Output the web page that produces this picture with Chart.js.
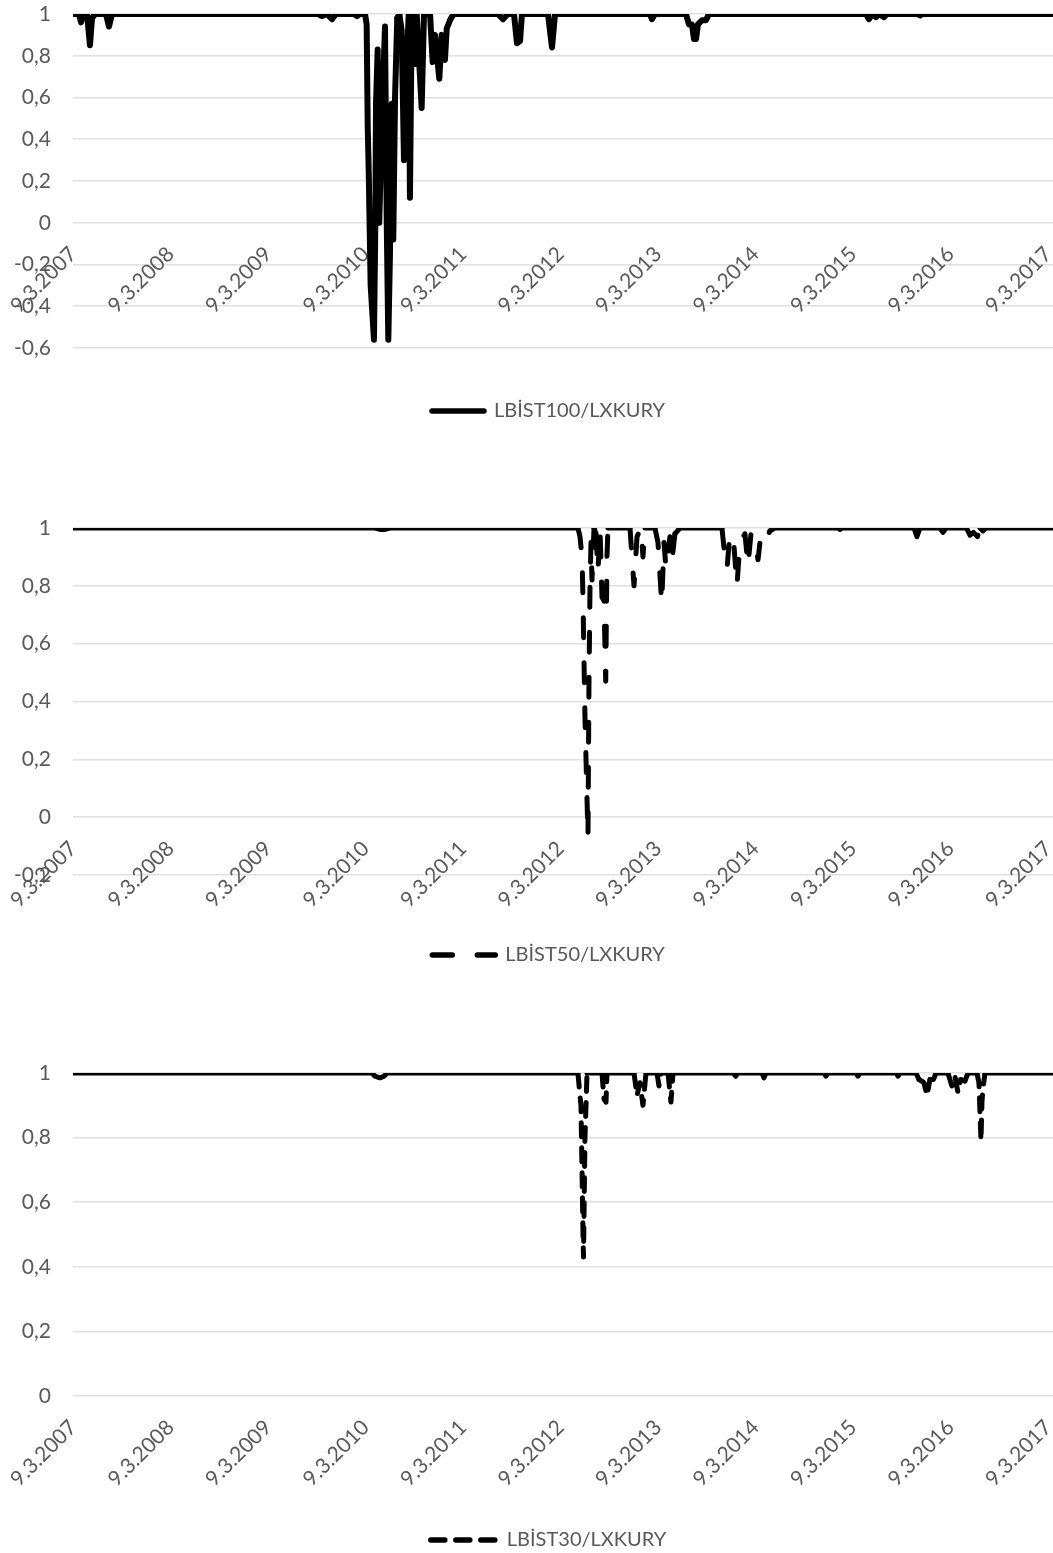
<!DOCTYPE html>
<html>
<head>
<meta charset="utf-8">
<script src="https://cdn.jsdelivr.net/npm/chart.js@4.4.0/dist/chart.umd.min.js"></script>
<style>
  html, body { margin: 0; padding: 0; background: #fff; overflow: hidden; }
  #page { position: relative; width: 1053px; height: 1553px; overflow: hidden; }
  /* the canvas runs 44px past the page edge so the legend sits where Excel put it */
  .box { position: absolute; left: 0; width: 1097px; }
</style>
</head>
<body>
<div id="page">
  <div class="box" style="top:0;height:431px"><canvas id="chart1"></canvas></div>
  <div class="box" style="top:514px;height:461px"><canvas id="chart2"></canvas></div>
  <div class="box" style="top:1059px;height:501px"><canvas id="chart3"></canvas></div>
</div>
<script>
// x axis: years since 9.3.2007, one tick per year
const tickYears = [0, 1, 2, 3, 4, 5, 6, 7, 8, 9, 10];
const tickLabels = ['9.3.2007', '9.3.2008', '9.3.2009', '9.3.2010', '9.3.2011', '9.3.2012',
  '9.3.2013', '9.3.2014', '9.3.2015', '9.3.2016', '9.3.2017'];

// LBİST100/LXKURY
const years100 = [0, 0.062, 0.082, 0.103, 0.144, 0.174, 0.195, 0.226, 0.338, 0.369, 0.400,
  2.513, 2.554, 2.605, 2.656, 2.697, 2.882, 2.913, 2.944, 2.995,
  3.012, 3.023, 3.033, 3.053, 3.087, 3.101, 3.108, 3.125, 3.141, 3.166, 3.200, 3.218, 3.234,
  3.251, 3.269, 3.285, 3.303, 3.326, 3.347, 3.371, 3.395, 3.408, 3.423, 3.443, 3.456, 3.470,
  3.484, 3.508, 3.525, 3.576, 3.600, 3.662, 3.689, 3.713, 3.757, 3.782, 3.815, 3.833, 3.867,
  3.901, 4.359, 4.410, 4.462, 4.523, 4.554, 4.585, 4.605, 4.872, 4.913, 4.944,
  5.918, 5.938, 5.969, 6.287, 6.318, 6.349, 6.369, 6.390, 6.410, 6.451, 6.492, 6.523,
  8.133, 8.164, 8.195, 8.236, 8.267, 8.318, 8.349, 8.667, 8.687, 8.708, 10.051];
const values100 = [1, 1, 0.96, 0.99, 1, 0.85, 0.98, 1, 1, 0.94, 1,
  1, 0.99, 1, 0.975, 1, 1, 0.99, 1, 1,
  0.95, 0.46, 0.25, -0.3, -0.56, 0, 0.57, 0.83, 0, 0.45, 0.94, 0, -0.56,
  -0.15, 0.57, -0.08, 0.6, 0.98, 1, 0.92, 0.3, 0.54, 0.75, 1, 0.12, 0.8,
  1, 0.76, 1, 0.55, 1, 1, 0.77, 0.9, 0.69, 0.9, 0.78, 0.93, 0.97,
  1, 1, 0.975, 1, 1, 0.86, 0.87, 1, 1, 0.84, 1,
  1, 0.975, 1, 1, 0.95, 0.95, 0.88, 0.88, 0.95, 0.97, 0.97, 1,
  1, 0.975, 1, 0.985, 1, 0.985, 1, 1, 0.993, 1, 1];

// LBİST50/LXKURY
const years50 = [0, 3.097, 3.149, 3.200, 3.251,
  5.179, 5.200, 5.221, 5.231, 5.241, 5.251, 5.262, 5.282, 5.292, 5.303, 5.313, 5.323, 5.344,
  5.364, 5.385, 5.405, 5.426, 5.446, 5.464, 5.477, 5.487,
  5.713, 5.754, 5.785, 5.826, 5.846, 5.867, 5.969, 6.000, 6.038, 6.062, 6.082, 6.123, 6.144,
  6.174, 6.226, 6.656, 6.687, 6.708, 6.738, 6.779, 6.810, 6.841, 6.892, 6.923, 6.954, 6.995,
  7.026, 7.056, 7.108, 7.149, 7.200, 7.846, 7.867, 7.887,
  8.626, 8.656, 8.687, 8.892, 8.923, 8.954, 9.164, 9.200, 9.236, 9.277, 9.303, 9.333, 9.364, 10.051];
const values50 = [1, 1, 0.995, 0.995, 1,
  1, 0.97, 0.9, 0.75, 0.55, 0.35, 0.2, -0.07, 0.45, 0.8, 0.95, 0.82, 1,
  0.98, 0.85, 1, 0.76, 0.75, 0.47, 0.9, 1,
  1, 0.8, 0.97, 1, 0.9, 1, 1, 0.95, 0.74, 0.95, 0.86, 0.97, 0.89,
  0.98, 1, 1, 0.9, 0.86, 0.98, 0.94, 0.8, 0.95, 0.98, 0.87, 0.98, 0.96,
  0.89, 0.98, 0.96, 0.99, 1, 1, 0.995, 1,
  1, 0.97, 1, 1, 0.985, 1, 1, 0.975, 0.985, 0.97, 1, 0.99, 1, 1];

// LBİST30/LXKURY
const years30 = [0, 3.067, 3.097, 3.149, 3.190, 3.221,
  5.179, 5.200, 5.210, 5.221, 5.231, 5.236, 5.241, 5.251, 5.262, 5.272,
  5.426, 5.446, 5.467, 5.477, 5.754, 5.785, 5.815, 5.846, 5.877, 5.990, 6.010, 6.031,
  6.103, 6.133, 6.154, 6.769, 6.796, 6.821, 7.067, 7.087, 7.108, 7.703, 7.723, 7.744,
  8.031, 8.051, 8.072, 8.441, 8.462, 8.482, 8.646, 8.677, 8.728, 8.759, 8.790, 8.826, 8.851,
  8.974, 9.015, 9.046, 9.077, 9.103, 9.149, 9.179, 9.272, 9.292, 9.313, 9.323, 9.333, 9.354, 10.051];
const values30 = [1, 1, 0.99, 0.985, 0.99, 1,
  1, 0.93, 0.9, 0.7, 0.5, 0.43, 0.55, 0.8, 0.9, 1,
  1, 0.92, 0.91, 1, 1, 0.93, 0.97, 0.9, 1, 1, 0.96, 1,
  1, 0.91, 1, 1, 0.99, 1, 1, 0.985, 1, 1, 0.99, 1,
  1, 0.99, 1, 1, 0.99, 1, 1, 0.98, 0.97, 0.93, 0.98, 0.98, 1,
  1, 0.96, 0.99, 0.94, 0.98, 0.975, 1, 1, 0.97, 0.79, 0.91, 0.95, 1, 1];

Chart.defaults.font.family = 'Lato, "Open Sans", sans-serif';
Chart.defaults.font.size = 21;
Chart.defaults.color = '#595959';

function formatTick(v) {
  // Excel style: 1, 0,8, -0,2 ...
  let r = Math.round(v * 10) / 10;
  if (r === Math.round(r)) return String(r);
  return r.toFixed(1).replace('.', ',');
}

function makeChart(id, years, values, label, yMin, dash, legendPad, lineW, width) {
  let points = years.map((x, i) => ({ x: x, y: values[i] }));
  return new Chart(document.getElementById(id), {
    type: 'line',
    data: {
      datasets: [{
        label: label,
        data: points,
        borderColor: '#000',
        backgroundColor: '#000',
        borderWidth: width,
        borderDash: dash,
        borderCapStyle: 'round',
        borderJoinStyle: 'round',
        pointRadius: 0,
        tension: 0,
        segment: {
          // stretches near 1 look solid, the dips show the dash
          borderDash: c => (c.p0.parsed.y >= 0.98 && c.p1.parsed.y >= 0.98) ? [] : undefined
        }
      }]
    },
    options: {
      responsive: true,
      maintainAspectRatio: false,
      animation: false,
      layout: { padding: { left: 0, top: 14, right: 0, bottom: 0 } },
      plugins: {
        tooltip: { enabled: false },
        legend: {
          position: 'bottom',
          labels: {
            usePointStyle: true,
            pointStyle: 'line',
            pointStyleWidth: lineW,
            padding: legendPad,
            color: '#595959',
            font: { size: 20 },
            generateLabels: chart => {
              let items = Chart.defaults.plugins.legend.labels.generateLabels(chart);
              items.forEach(it => {
                it.lineDash = dash;
                it.lineWidth = 5.5;
                it.lineCap = 'round';
                it.strokeStyle = '#000';
              });
              return items;
            }
          }
        }
      },
      scales: {
        x: {
          type: 'linear',
          min: 0,
          max: 10.503,
          position: { y: 0 },
          grid: { display: false, drawTicks: false },
          border: { display: false },
          afterBuildTicks: s => { s.ticks = tickYears.map(v => ({ value: v })); },
          afterFit: s => { s.paddingLeft = 0; s.paddingRight = 0; },
          ticks: {
            autoSkip: false,
            minRotation: 45,
            maxRotation: 45,
            padding: 19,
            callback: (v, i) => tickLabels[i]
          }
        },
        y: {
          min: yMin,
          max: 1,
          afterFit: s => { s.width = 73; s.paddingTop = 0; s.paddingBottom = 0; },
          grid: { color: '#e0e0e0', lineWidth: 1.6, drawTicks: false },
          border: { display: false },
          ticks: { stepSize: 0.2, padding: 22, callback: v => formatTick(v) }
        }
      }
    }
  });
}

makeChart('chart1', years100, values100, 'LBİST100/LXKURY', -0.6, [], 53, 52, 6);
makeChart('chart2', years50, values50, 'LBİST50/LXKURY', -0.2, [20, 25], 70, 63, 5);
makeChart('chart3', years30, values30, 'LBİST30/LXKURY', 0, [14, 11], 134, 66, 5);
</script>
</body>
</html>
